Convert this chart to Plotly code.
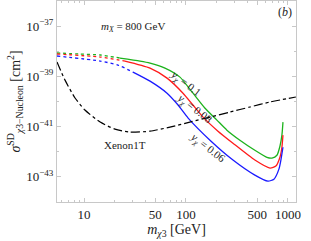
import numpy as np
import plotly.graph_objects as go

# --- data (masses in GeV, cross sections as log10(cm^2)) ---
m_green = [5.43, 9.14, 14.4, 22.5, 35.4, 44.4, 62.2, 87.3, 115, 153, 201, 252, 338, 474, 622, 697, 780, 835, 873, 894]
s_green = [-38.07, -38.11, -38.15, -38.27, -38.39, -38.47, -38.67, -39.03, -39.63, -40.26, -40.74, -41.14, -41.54, -41.94, -42.22, -42.25, -42.14, -41.78, -41.34, -40.82]

m_red = [5.43, 14.4, 25.2, 44.4, 65.2, 93.5, 117, 147, 206, 289, 474, 667, 762, 835, 873, 894]
s_red = [-38.11, -38.23, -38.39, -38.67, -39.07, -39.67, -40.14, -40.62, -41.18, -41.66, -42.33, -42.65, -42.57, -42.22, -41.82, -41.34]

m_blue = [5.43, 14.4, 21.5, 30.2, 44.4, 65.2, 83.6, 105, 172, 289, 474, 637, 729, 816, 853, 894]
s_blue = [-38.19, -38.39, -38.55, -38.83, -39.19, -39.67, -40.14, -40.66, -41.54, -42.33, -42.93, -43.17, -43.09, -42.69, -42.33, -41.82]

split_green = 22.5
split_red = 25.2
split_blue = 30.2

m_xenon = [5.43, 6.51, 8.16, 10.2, 14.4, 20.1, 28.2, 44.4, 69.6, 109, 172, 270, 424, 666, 1197]
s_xenon = [-38.43, -39.15, -39.86, -40.34, -40.82, -41.10, -41.22, -41.18, -41.02, -40.82, -40.62, -40.42, -40.22, -40.02, -39.82]

x_tickvals = [10, 50, 100, 500, 1000]
x_ticktext = ["10", "50", "100", "500", "1000"]
x_minor = [6, 7, 8, 9, 20, 30, 40, 60, 70, 80, 90, 200, 300, 400, 600, 700, 800, 900]
y_major_exp = [-43, -41, -39, -37]
y_minor_exp = [-44, -42, -40, -38, -36]

FONT = "Liberation Serif, Times New Roman, serif"
TXT = "#222222"

fig = go.Figure()

def add_curve(m, s, split, color):
    m = np.array(m, float)
    s = np.array(s, float)
    lo = m <= split
    hi = m >= split
    fig.add_trace(go.Scatter(x=m[lo], y=10 ** s[lo], mode="lines",
                             line=dict(color=color, width=1.3, dash="dot"),
                             line_shape="spline", line_smoothing=0.6, showlegend=False))
    fig.add_trace(go.Scatter(x=m[hi], y=10 ** s[hi], mode="lines",
                             line=dict(color=color, width=1.3),
                             line_shape="spline", line_smoothing=0.6, showlegend=False))

add_curve(m_green, s_green, split_green, "#1db31d")
add_curve(m_red, s_red, split_red, "#ff1a1a")
add_curve(m_blue, s_blue, split_blue, "#1a1aff")

fig.add_trace(go.Scatter(x=m_xenon, y=10 ** np.array(s_xenon), mode="lines",
                         line=dict(color="black", width=1.2, dash="dashdot"),
                         line_shape="spline", line_smoothing=0.6, showlegend=False))

axis_common = dict(showgrid=False, zeroline=False, showline=True, linecolor="#c8c8c8",
                   linewidth=1, mirror="ticks", ticks="inside", ticklen=4, automargin=False,
                   tickcolor="#c8c8c8", tickfont=dict(family=FONT, size=13, color=TXT))

fig.update_xaxes(type="log", range=[np.log10(5.43), np.log10(1200)],
                 tickmode="array", tickvals=x_tickvals, ticktext=x_ticktext,
                 minor=dict(tickmode="array", tickvals=x_minor, ticks="inside",
                            ticklen=2, tickcolor="#c8c8c8"),
                 title=dict(text="<i>m</i><sub><i>χ</i>3</sub> [GeV]",
                            font=dict(family=FONT, size=14, color=TXT), standoff=2),
                 **axis_common)
fig.update_yaxes(type="log", range=[-44, -36],
                 tickmode="array", tickvals=[10.0 ** e for e in y_major_exp],
                 ticktext=["10<sup>−%d</sup>" % -e for e in y_major_exp],
                 minor=dict(tickmode="array", tickvals=[10.0 ** e for e in y_minor_exp],
                            ticks="inside", ticklen=2, tickcolor="#c8c8c8"),
                 title=dict(text="<i>σ</i><sup>SD</sup><sub><i>χ</i>3−Nucleon</sub> [cm<sup>2</sup>]",
                            font=dict(family=FONT, size=14, color=TXT), standoff=2),
                 **axis_common)

ann_font = dict(family=FONT, size=11, color=TXT)
fig.add_annotation(x=np.log10(30), y=-37.05, xref="x", yref="y",
                   text="<i>m<sub>X</sub></i> = 800 GeV", showarrow=False, font=ann_font)
fig.add_annotation(x=np.log10(930), y=-36.45, xref="x", yref="y",
                   text="(<i>b</i>)", showarrow=False, font=dict(family=FONT, size=12, color=TXT))
fig.add_annotation(x=np.log10(25), y=-41.75, xref="x", yref="y",
                   text="Xenon1T", showarrow=False, font=ann_font)
fig.add_annotation(x=np.log10(100), y=-39.3, xref="x", yref="y",
                   text="<i>y<sub>χ</sub></i> = 0.1", showarrow=False, textangle=38, font=ann_font)
fig.add_annotation(x=np.log10(121), y=-40.3, xref="x", yref="y",
                   text="<i>y<sub>χ</sub></i> = 0.08", showarrow=False, textangle=38, font=ann_font)
fig.add_annotation(x=np.log10(162), y=-41.87, xref="x", yref="y",
                   text="<i>y<sub>χ</sub></i> = 0.06", showarrow=False, textangle=38, font=ann_font)

fig.update_layout(width=311, height=241, margin=dict(l=57, r=15, t=1, b=39),
                  paper_bgcolor="white", plot_bgcolor="white", showlegend=False)

fig.write_html("out.html", config={"displayModeBar": False},
               post_script="document.body.style.margin='0px';document.body.style.overflow='hidden';")
